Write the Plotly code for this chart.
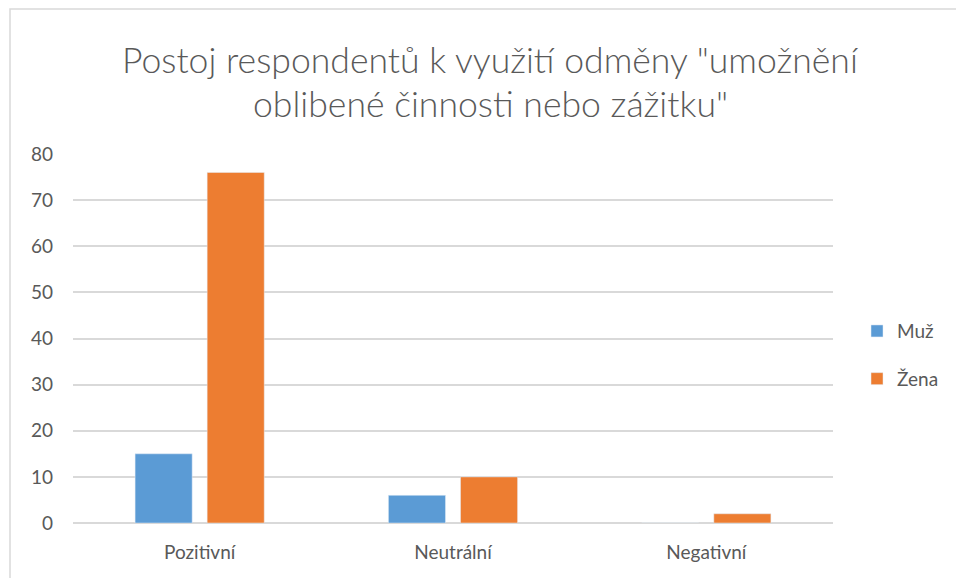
import plotly.graph_objects as go

categories = ["Pozitivní", "Neutrální", "Negativní"]
muz = [15, 6, 0]
zena = [76, 10, 2]
y_ticks = [0, 10, 20, 30, 40, 50, 60, 70, 80]
title_lines = ['Postoj respondentů k využití odměny "umožnění',
               'oblibené činnosti nebo zážitku"']

FONT = "Lato, 'Open Sans', sans-serif"
TXT = "#595959"

fig = go.Figure()
fig.add_trace(go.Bar(name="Muž", x=categories, y=muz, marker_color="#5B9BD5",
                     legendgroup="a"))
fig.add_trace(go.Bar(name="Žena", x=categories, y=zena, marker_color="#ED7D31",
                     legendgroup="b"))

title_y = [1.256, 1.136]
annotations = [dict(text=t, xref="paper", yref="paper", x=0.549, y=yy,
                    xanchor="center", yanchor="middle", showarrow=False,
                    font=dict(family=FONT, size=35.6, color=TXT, weight=300))
               for t, yy in zip(title_lines, title_y)]

fig.update_layout(
    width=956, height=578,
    paper_bgcolor="white", plot_bgcolor="white",
    margin=dict(l=73, r=123, t=154, b=55, autoexpand=False),
    barmode="group", bargap=0.431, bargroupgap=0.208,
    font=dict(family=FONT, color=TXT, size=19),
    xaxis=dict(showgrid=False, showline=False, ticks="", ticklabelstandoff=16,
               tickfont=dict(size=19, color=TXT)),
    yaxis=dict(range=[0, 80], tickvals=y_ticks, showgrid=True, gridcolor="#d9d9d9",
               gridwidth=1.5, zeroline=True, zerolinecolor="#d9d9d9", zerolinewidth=1.5,
               showline=False, ticks="", ticklabelstandoff=19,
               tickfont=dict(size=19, color=TXT)),
    legend=dict(x=1.0316, xanchor="left", y=0.455, yanchor="middle",
                font=dict(size=19, color=TXT), tracegroupgap=20,
                itemwidth=30, bgcolor="rgba(0,0,0,0)"),
    annotations=annotations,
    shapes=[dict(type="rect", xref="paper", yref="paper",
                 x0=(10 - 73) / 760, x1=1.5, y0=-0.5, y1=(523 - 9) / 369,
                 line=dict(color="#d9d9d9", width=1.5), layer="below")],
)

fig.write_html("out.html", config={"displayModeBar": False},
               post_script="document.body.style.margin='0';document.body.style.overflow='hidden';")
